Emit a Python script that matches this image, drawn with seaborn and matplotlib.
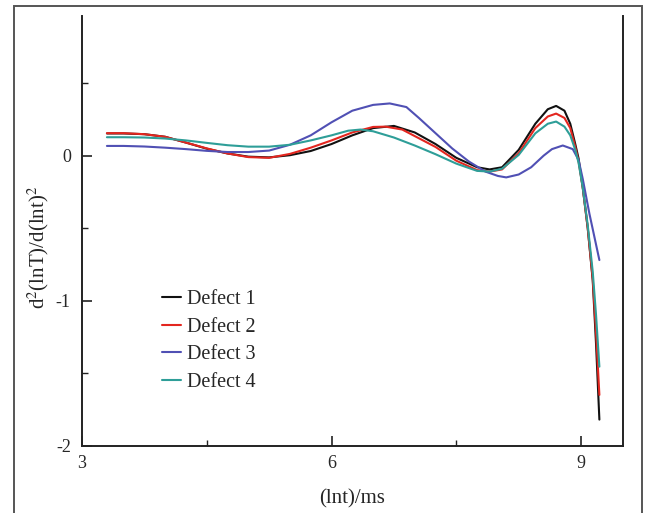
import numpy as np
import pandas as pd
import seaborn as sns
import matplotlib.pyplot as plt
from matplotlib.patches import Rectangle

# values (x = lnt, y = second derivative)
x1 = [3.3, 3.5, 3.75, 4.0, 4.25, 4.5, 4.75, 5.0, 5.25, 5.5, 5.75, 6.0, 6.25, 6.5, 6.75, 7.0,
      7.25, 7.5, 7.75, 7.9, 8.05, 8.25, 8.45, 8.6, 8.7, 8.8, 8.87, 8.93, 8.97, 9.02, 9.08,
      9.14, 9.18, 9.22]
y1 = [0.153, 0.153, 0.148, 0.13, 0.09, 0.048, 0.015, -0.007, -0.012, 0.003, 0.032, 0.08,
      0.14, 0.19, 0.205, 0.16, 0.08, -0.015, -0.08, -0.095, -0.08, 0.04, 0.22, 0.32, 0.343,
      0.31, 0.22, 0.08, -0.02, -0.22, -0.5, -0.86, -1.3, -1.82]

x2 = [3.3, 3.5, 3.75, 4.0, 4.25, 4.5, 4.75, 5.0, 5.25, 5.5, 5.75, 6.0, 6.25, 6.5, 6.65, 6.85,
      7.05, 7.25, 7.5, 7.75, 7.9, 8.05, 8.25, 8.45, 8.6, 8.7, 8.8, 8.87, 8.93, 8.97, 9.02,
      9.08, 9.14, 9.18, 9.22]
y2 = [0.155, 0.155, 0.148, 0.13, 0.09, 0.05, 0.015, -0.01, -0.015, 0.012, 0.055, 0.105,
      0.16, 0.198, 0.2, 0.18, 0.12, 0.06, -0.035, -0.1, -0.11, -0.095, 0.016, 0.19, 0.27,
      0.29, 0.26, 0.19, 0.06, -0.04, -0.22, -0.5, -0.85, -1.22, -1.65]

x3 = [3.3, 3.5, 3.75, 4.0, 4.25, 4.5, 4.75, 5.0, 5.25, 5.5, 5.75, 6.0, 6.25, 6.5, 6.7, 6.9,
      7.05, 7.25, 7.45, 7.65, 7.85, 8.0, 8.1, 8.25, 8.4, 8.55, 8.65, 8.78, 8.9, 8.97, 9.02,
      9.1, 9.16, 9.22]
y3 = [0.067, 0.067, 0.063, 0.055, 0.045, 0.033, 0.025, 0.025, 0.035, 0.075, 0.14, 0.23,
      0.31, 0.35, 0.36, 0.335, 0.26, 0.155, 0.05, -0.04, -0.11, -0.14, -0.15, -0.13, -0.08,
      0.0, 0.045, 0.07, 0.045, -0.03, -0.16, -0.4, -0.56, -0.72]

x4 = [3.3, 3.5, 3.75, 4.0, 4.25, 4.5, 4.75, 5.0, 5.25, 5.5, 5.75, 6.0, 6.2, 6.35, 6.5, 6.75,
      7.0, 7.25, 7.5, 7.75, 7.9, 8.05, 8.25, 8.45, 8.6, 8.7, 8.8, 8.87, 8.93, 8.97, 9.02,
      9.08, 9.14, 9.18, 9.22]
y4 = [0.127, 0.127, 0.125, 0.118, 0.105, 0.088, 0.072, 0.062, 0.062, 0.075, 0.105, 0.14,
      0.172, 0.18, 0.168, 0.125, 0.07, 0.01, -0.055, -0.105, -0.11, -0.09, 0.005, 0.154,
      0.22, 0.235, 0.2, 0.14, 0.04, -0.05, -0.22, -0.48, -0.8, -1.1, -1.455]

names = ["Defect 1", "Defect 2", "Defect 3", "Defect 4"]
colors = ["#111111", "#e3261f", "#5050b4", "#2e9e98"]

frames = []
for name, xs, ys in zip(names, [x1, x2, x3, x4], [y1, y2, y3, y4]):
    frames.append(pd.DataFrame({"x": xs, "y": ys, "series": name}))
data = pd.concat(frames, ignore_index=True)

sns.set_style("ticks")
plt.rcParams['font.family'] = ['Liberation Serif', 'DejaVu Serif']
plt.rcParams['mathtext.fontset'] = 'stix'
plt.rcParams['axes.unicode_minus'] = False

fig = plt.figure(figsize=(6.47, 5.13), dpi=100)
ax = fig.add_axes([0.1267, 0.1312, 0.8357, 0.8382])

sns.lineplot(data=data, x="x", y="y", hue="series", palette=dict(zip(names, colors)),
             sort=False, estimator=None, linewidth=1.5, ax=ax)

ax.set_xlim(3, 9.5)
ax.set_ylim(-2, 0.965)
ax.set_xticks([3, 6, 9])
ax.set_xticks([4.5, 7.5], minor=True)
ax.set_yticks([-2, -1, 0])
ax.set_yticks([-1.5, -0.5, 0.5], minor=True)
ax.tick_params(which='major', direction='in', length=7, width=1.2, labelsize=13, pad=7,
               color='#222222')
ax.tick_params(which='minor', direction='in', length=4.5, width=1.0, color='#222222')
ax.tick_params(axis='y', pad=8)

ax.spines['top'].set_visible(False)
for side in ['left', 'right', 'bottom']:
    ax.spines[side].set_linewidth(1.4)
    ax.spines[side].set_color('#222222')

ax.set_xlabel("(lnt)/ms", fontsize=15, labelpad=12)
ax.set_ylabel(r"d$^2$(lnT)/d(lnt)$^2$", fontsize=15)
ax.yaxis.set_label_coords(-0.058, 0.462)

ax.legend(loc='upper left', bbox_to_anchor=(0.148, 0.362), frameon=False, fontsize=14.5,
          handlelength=0.95, handletextpad=0.3, labelspacing=0.42, borderpad=0,
          borderaxespad=0)

# outer frame around the whole picture
fig.patches.append(Rectangle((14 / 647, -0.02), (641.5 - 14) / 647, 1.02 - 5.5 / 513,
                             transform=fig.transFigure, fill=False, linewidth=1.4,
                             edgecolor='#555555'))

fig.savefig("out.png", dpi=100)
